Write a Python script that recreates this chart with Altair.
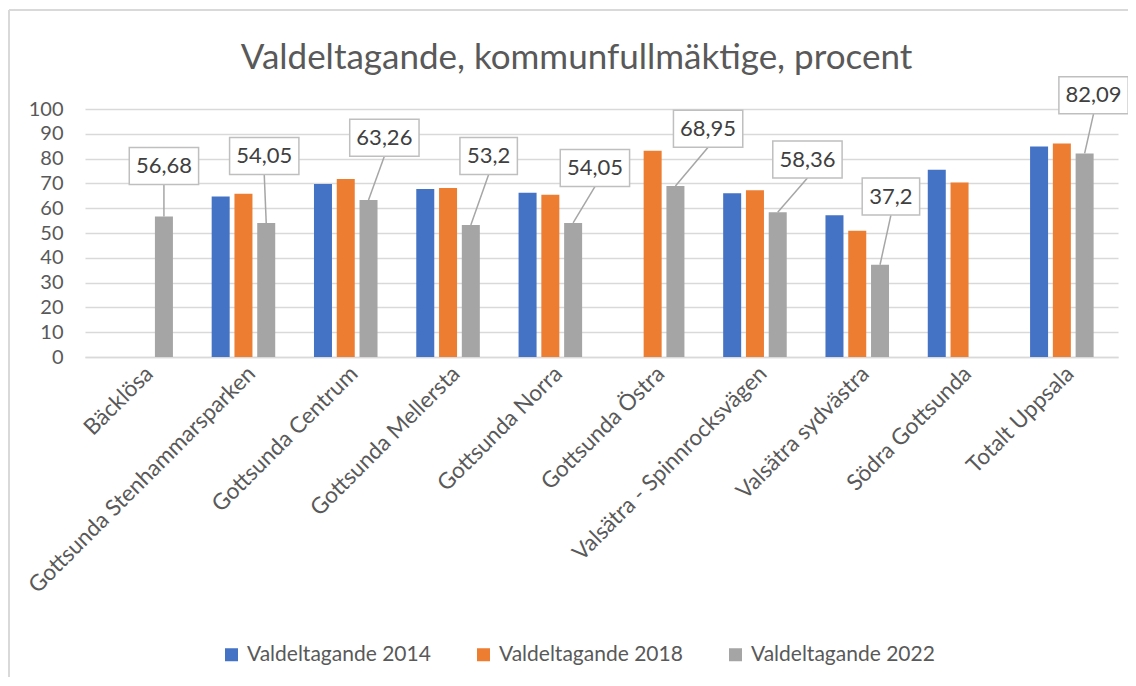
import json
import altair as alt
import pandas as pd

# ---------------- data ----------------
categories = [
    "Bäcklösa",
    "Gottsunda Stenhammarsparken",
    "Gottsunda Centrum",
    "Gottsunda Mellersta",
    "Gottsunda Norra",
    "Gottsunda Östra",
    "Valsätra - Spinnrocksvägen",
    "Valsätra sydvästra",
    "Södra Gottsunda",
    "Totalt Uppsala",
]
series = ["Valdeltagande 2014", "Valdeltagande 2018", "Valdeltagande 2022"]
v2014 = [None, 64.7, 69.8, 67.7, 66.2, None, 66.0, 57.2, 75.5, 84.9]
v2018 = [None, 65.8, 71.8, 68.1, 65.4, 83.2, 67.2, 50.9, 70.4, 86.1]
v2022 = [56.68, 54.05, 63.26, 53.2, 54.05, 68.95, 58.36, 37.2, None, 82.09]

# callout placement (annotation layout, as placed in the original)
callout_y = [77.0, 81.0, 88.4, 81.0, 76.2, 92.0, 79.6, 64.7, None, 105.5]   # data units
callout_dx = [0, -2, 16, 18, 22, 33, 30, 11, 0, 9]                          # pixels

colors = ["#4472C4", "#ED7D31", "#A5A5A5"]

# ---------------- layout constants ----------------
W, H = 1033, 248
PX_X = W / 10.0          # px per category unit
PX_Y = H / 100.0         # px per y unit
BAR_STEP = 23 / PX_X     # offset between bars within a group
TXT = "#595959"
FONT = "Lato"

rows = []
for i, c in enumerate(categories):
    for s, vals in enumerate([v2014, v2018, v2022]):
        if vals[i] is not None:
            rows.append({"cat": c, "idx": i, "series": series[s], "s": s, "value": vals[i]})
bars_df = pd.DataFrame(rows)

crow = []
for i, c in enumerate(categories):
    v = v2022[i]
    if v is None:
        continue
    lab = f"{v:g}".replace(".", ",")
    xb = i + BAR_STEP
    xc = xb + callout_dx[i] / PX_X
    half_w = (12 * len(lab) + 10) / 2 / PX_X
    half_h = 18.5 / PX_Y
    crow.append({
        "xb": xb, "value": v, "label": lab,
        "xc": xc, "yc": callout_y[i],
        "x1": xc - half_w, "x2": xc + half_w,
        "y1": callout_y[i] - half_h, "y2": callout_y[i] + half_h,
    })
call_df = pd.DataFrame(crow)

label_expr = json.dumps(categories, ensure_ascii=False) + "[datum.value]"

xscale = alt.Scale(domain=[-0.5, 9.5], nice=False, zero=False)
yscale = alt.Scale(domain=[0, 100], nice=False)

xaxis = alt.Axis(values=list(range(10)), labelExpr=label_expr, title=None,
                 labelAngle=-45, labelFontSize=22.5, labelColor=TXT, labelFont=FONT,
                 labelPadding=5, ticks=False, grid=False, domainColor="#d9d9d9",
                 domainWidth=1.5, labelOverlap=False, labelLimit=400)
yaxis = alt.Axis(values=list(range(0, 101, 10)), title=None, labelFontSize=20,
                 labelColor=TXT, labelFont=FONT, labelPadding=22, ticks=False,
                 domain=False, gridColor="#d9d9d9", gridWidth=1.5, labelOverlap=False)

bars = alt.Chart(bars_df).transform_calculate(
    xp=f"datum.idx + (datum.s - 1) * {BAR_STEP}"
).mark_bar(size=18).encode(
    x=alt.X("xp:Q", scale=xscale, axis=xaxis),
    y=alt.Y("value:Q", scale=yscale, axis=yaxis),
    color=alt.Color("series:N", scale=alt.Scale(domain=series, range=colors),
                    legend=alt.Legend(title=None, orient="none", direction="horizontal",
                                      legendX=136, legendY=535, symbolType="square",
                                      symbolSize=169, symbolStrokeWidth=0, padding=0,
                                      labelFontSize=21, labelColor=TXT, labelFont=FONT,
                                      columnPadding=42, labelOffset=5, labelLimit=400)),
)

leaders = alt.Chart(call_df).mark_rule(color="#a6a6a6", strokeWidth=1.5).encode(
    x=alt.X("xb:Q", scale=xscale, axis=xaxis), y=alt.Y("value:Q", scale=yscale, axis=yaxis),
    x2="xc:Q", y2="y1:Q",
)

boxes = alt.Chart(call_df).mark_rect(fill="white", stroke="#bfbfbf", strokeWidth=1.5).encode(
    x=alt.X("x1:Q", scale=xscale, axis=xaxis), x2="x2:Q",
    y=alt.Y("y1:Q", scale=yscale, axis=yaxis), y2="y2:Q",
)

texts = alt.Chart(call_df).mark_text(fontSize=22, color="#404040", font=FONT,
                                     align="center", baseline="middle").encode(
    x=alt.X("xc:Q", scale=xscale, axis=xaxis), y=alt.Y("yc:Q", scale=yscale, axis=yaxis),
    text="label:N",
)

# chart frame (decoration: left and top border lines of the chart area)
frame_left = alt.Chart(call_df).mark_rule(color="#d9d9d9", strokeWidth=1.5).encode(
    x=alt.value(-76), y=alt.value(-99), y2=alt.value(580)
)
frame_top = alt.Chart(call_df).mark_rule(color="#d9d9d9", strokeWidth=1.5).encode(
    x=alt.value(-76), x2=alt.value(1060), y=alt.value(-99)
)

chart = alt.layer(bars, leaders, boxes, texts, frame_left, frame_top).properties(
    width=W, height=H,
    title=alt.TitleParams("Valdeltagande, kommunfullmäktige, procent", fontSize=35,
                          font=FONT, fontWeight="normal", color=TXT, anchor="middle",
                          dx=-25, offset=-67),
    autosize=alt.AutoSizeParams(type="none"),
    padding={"left": 77, "top": 101, "right": 10, "bottom": 320},
).configure_view(stroke=None)

chart.save("out.html", embed_options={"renderer": "svg", "actions": False})
